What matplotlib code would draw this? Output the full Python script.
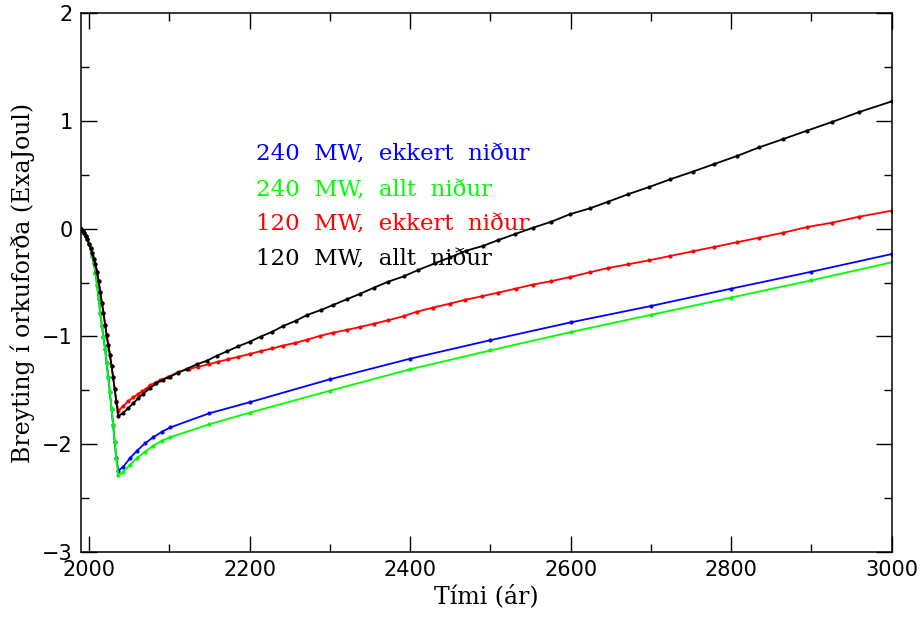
import matplotlib
matplotlib.use("Agg")
import matplotlib.pyplot as plt
from matplotlib.ticker import MultipleLocator

# ---- data ----
descent_years = [1990, 1992, 1994, 1996, 1998, 2000, 2002, 2004, 2006, 2008, 2010,
                 2012, 2014, 2016, 2018, 2020, 2022, 2024, 2026, 2028, 2030, 2032, 2034]

black_descent = [0, -0.02, -0.04, -0.07, -0.10, -0.14, -0.18, -0.23, -0.28, -0.33, -0.40,
                 -0.49, -0.59, -0.69, -0.78, -0.89, -0.99, -1.08, -1.17, -1.27, -1.38, -1.49, -1.61]
red_descent = [0, -0.02, -0.04, -0.07, -0.10, -0.14, -0.18, -0.23, -0.28, -0.33, -0.40,
               -0.49, -0.59, -0.69, -0.78, -0.89, -0.99, -1.08, -1.17, -1.27, -1.38, -1.49, -1.60]
green_descent = [0, -0.02, -0.04, -0.07, -0.10, -0.14, -0.19, -0.25, -0.32, -0.41, -0.52,
                 -0.65, -0.78, -0.90, -1.01, -1.12, -1.25, -1.38, -1.52, -1.67, -1.82, -1.98, -2.14]
blue_descent = [0, -0.02, -0.04, -0.07, -0.10, -0.14, -0.19, -0.25, -0.32, -0.41, -0.52,
                -0.65, -0.78, -0.90, -1.01, -1.12, -1.25, -1.38, -1.52, -1.67, -1.82, -1.98, -2.13]

black_rec_years = [2036.5, 2042.7, 2049, 2055, 2061, 2067.6, 2076, 2084, 2092, 2101, 2111,
                   2122, 2134, 2147, 2159, 2172, 2186, 2200, 2214, 2228, 2242, 2258, 2272,
                   2289, 2304, 2321, 2338, 2355, 2373, 2392, 2410, 2431, 2450, 2470, 2491,
                   2510, 2531, 2553, 2576, 2599, 2624, 2647, 2672, 2698, 2724, 2752, 2779,
                   2807, 2835, 2865, 2895, 2926, 2959, 3000]
black_rec = [-1.74, -1.708, -1.665, -1.62, -1.575, -1.53, -1.48, -1.435, -1.40, -1.374, -1.337,
             -1.30, -1.26, -1.225, -1.18, -1.138, -1.092, -1.05, -1.001, -0.958, -0.903, -0.854, -0.80,
             -0.755, -0.709, -0.656, -0.604, -0.548, -0.492, -0.443, -0.384, -0.322, -0.266, -0.205, -0.16,
             -0.106, -0.05, 0.008, 0.064, 0.133, 0.188, 0.25, 0.32, 0.386, 0.457, 0.528, 0.599,
             0.673, 0.754, 0.831, 0.91, 0.99, 1.08, 1.18]

red_rec_years = [2036.5, 2042.7, 2049, 2055, 2061, 2066, 2071, 2076, 2082, 2088.5, 2099, 2111,
                 2124, 2136, 2149, 2161, 2173, 2186, 2200, 2214, 2228, 2242, 2257, 2272, 2288,
                 2304, 2321, 2338, 2355, 2373, 2392, 2408, 2429, 2450, 2468, 2489, 2510, 2532,
                 2553, 2576, 2599, 2624, 2647, 2672, 2698, 2724, 2752, 2779, 2807, 2835, 2865,
                 2895, 2926, 2959, 3000]
red_rec = [-1.69, -1.646, -1.60, -1.565, -1.535, -1.51, -1.485, -1.455, -1.43, -1.407, -1.375, -1.33,
           -1.303, -1.281, -1.259, -1.235, -1.213, -1.189, -1.164, -1.136, -1.112, -1.085, -1.06, -1.03, -0.995,
           -0.965, -0.94, -0.912, -0.882, -0.850, -0.812, -0.772, -0.732, -0.695, -0.662, -0.628, -0.594, -0.556,
           -0.519, -0.487, -0.45, -0.405, -0.365, -0.331, -0.294, -0.254, -0.211, -0.17, -0.127, -0.084, -0.038,
           0.015, 0.055, 0.11, 0.166]

blue_rec_years = [2036.5, 2042.7, 2051, 2059.4, 2070, 2080, 2091, 2101, 2150, 2200, 2300, 2400,
                  2500, 2600, 2700, 2800, 2900, 3000]
blue_rec = [-2.245, -2.209, -2.13, -2.063, -1.99, -1.936, -1.884, -1.845, -1.713, -1.611, -1.398, -1.207,
            -1.035, -0.87, -0.718, -0.557, -0.40, -0.236]

green_rec_years = [2036.5, 2042.7, 2051, 2059.4, 2070, 2080, 2091, 2101, 2150, 2200, 2300, 2400,
                   2500, 2600, 2700, 2800, 2900, 3000]
green_rec = [-2.29, -2.255, -2.193, -2.13, -2.07, -2.014, -1.967, -1.936, -1.815, -1.708, -1.504, -1.305,
             -1.13, -0.96, -0.80, -0.64, -0.48, -0.313]

labels = ["240  MW,  ekkert  niður", "240  MW,  allt  niður",
          "120  MW,  ekkert  niður", "120  MW,  allt  niður"]
colors = ["#0000ff", "#00ff00", "#ff0000", "#000000"]

series = [
    (descent_years + blue_rec_years, blue_descent + blue_rec),
    (descent_years + green_rec_years, green_descent + green_rec),
    (descent_years + red_rec_years, red_descent + red_rec),
    (descent_years + black_rec_years, black_descent + black_rec),
]

# ---- plot ----
fig = plt.figure(figsize=(9.23, 6.18), dpi=100)
ax = fig.add_axes([81 / 923, 1 - 552 / 618, (891.7 - 81) / 923, (552 - 13) / 618])

for (xs, ys), c in zip(series, colors):
    ax.plot(xs, ys, color=c, lw=1.3, marker="o", ms=2.0, mec=c, mfc=c)

ax.set_xlim(1990, 3000)
ax.set_ylim(-3, 2)
ax.xaxis.set_major_locator(MultipleLocator(200))
ax.xaxis.set_minor_locator(MultipleLocator(100))
ax.yaxis.set_major_locator(MultipleLocator(1))
ax.yaxis.set_minor_locator(MultipleLocator(0.5))
ax.tick_params(which="both", direction="in", top=True, right=True, width=1.0, labelsize=15)
ax.tick_params(which="major", length=11.5, pad=6)
ax.tick_params(which="minor", length=5.8)
for s in ax.spines.values():
    s.set_linewidth(1.1)

ax.set_xlabel("Tími (ár)", family="DejaVu Serif", fontsize=17, labelpad=3)
ax.set_ylabel("Breyting í orkuforða (ExaJoul)", family="DejaVu Serif", fontsize=17, labelpad=5)

ypos = [0.726, 0.660, 0.597, 0.532]
for lab, c, yp in zip(labels, colors, ypos):
    ax.text(0.216, yp, lab, color=c, transform=ax.transAxes, family="DejaVu Serif",
            fontsize=16.5, va="baseline", ha="left")

fig.savefig("out.png", dpi=100)
